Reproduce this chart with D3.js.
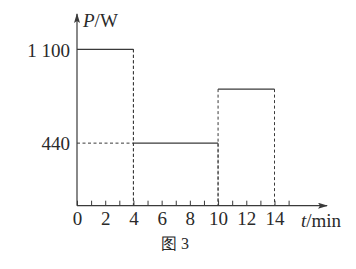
<!DOCTYPE html>
<html>
<head>
<meta charset="utf-8">
<script src="https://cdn.jsdelivr.net/npm/d3@7"></script>
<style>
  body { margin: 0; background: #fff; }
  svg { display: block; }
  text { font-family: "Liberation Serif", "DejaVu Serif", serif; fill: #2a2a2a; }
</style>
</head>
<body>
<svg width="356" height="269"></svg>
<script>
// segments of the power curve
var startTimes = [0, 4, 10];
var endTimes = [4, 10, 14];
var powers = [1100, 440, 820];
// axis ticks
var xTicks = d3.range(0, 16);
var xLabels = [0, 2, 4, 6, 8, 10, 12, 14];
var yLabels = [440, 1100];

var svg = d3.select("svg");
var ink = "#3a3a3a";
var txt = "#2a2a2a";

var xScale = d3.scaleLinear().domain([0, 14]).range([77, 274.5]);
var yScale = d3.scaleLinear().domain([0, 1100]).range([205.7, 49.3]);
var x0 = xScale(0), y0 = yScale(0);

var fmt = d3.formatLocale({decimal: ".", thousands: " ", grouping: [3], currency: ["", ""]}).format(",");

svg.append("defs").append("marker")
  .attr("id", "arrow")
  .attr("viewBox", "0 0 10 6")
  .attr("refX", 9).attr("refY", 3)
  .attr("markerWidth", 10).attr("markerHeight", 6)
  .attr("markerUnits", "userSpaceOnUse")
  .attr("orient", "auto")
  .append("path").attr("d", "M0,0L10,3L0,6L2,3Z").attr("fill", ink);

// x axis
var xAxis = svg.append("g")
  .attr("transform", "translate(0," + y0 + ")")
  .call(d3.axisBottom(xScale)
    .tickValues(xTicks)
    .tickSizeInner(-5).tickSizeOuter(0)
    .tickPadding(6)
    .tickFormat(function(d) { return xLabels.indexOf(d) >= 0 ? d : ""; }));
xAxis.select(".domain").remove();
xAxis.selectAll("line").attr("stroke", ink);
xAxis.selectAll("text").attr("font-size", 19).attr("fill", txt)
  .attr("font-family", "Liberation Serif");

svg.append("line")
  .attr("x1", x0).attr("y1", y0).attr("x2", 327).attr("y2", y0)
  .attr("stroke", ink).attr("stroke-width", 1.2)
  .attr("marker-end", "url(#arrow)");

// y axis
var yAxis = svg.append("g")
  .attr("transform", "translate(" + x0 + ",0)")
  .call(d3.axisLeft(yScale).tickValues(yLabels).tickSize(0).tickPadding(7).tickFormat(fmt));
yAxis.select(".domain").remove();
yAxis.selectAll("text").attr("font-size", 19).attr("fill", txt)
  .attr("font-family", "Liberation Serif").attr("dy", "0.36em");

svg.append("line")
  .attr("x1", x0).attr("y1", y0).attr("x2", x0).attr("y2", 14)
  .attr("stroke", ink).attr("stroke-width", 1.2)
  .attr("marker-end", "url(#arrow)");

// axis titles
var pt = svg.append("text").attr("x", 83).attr("y", 27).attr("font-size", 19);
pt.append("tspan").attr("font-style", "italic").text("P");
pt.append("tspan").text("/W");

var tt = svg.append("text").attr("x", 301).attr("y", 227).attr("font-size", 19);
tt.append("tspan").attr("font-style", "italic").text("t");
tt.append("tspan").text("/min");

svg.append("text").attr("x", 175).attr("y", 249).attr("font-size", 16)
  .attr("text-anchor", "middle")
  .text("图 3");

// dashed guides
var dash = "3,2.5";
var g = svg.append("g");
startTimes.forEach(function(t, i) {
  var p = powers[i];
  // vertical drop at segment end
  g.append("line")
    .attr("x1", xScale(endTimes[i])).attr("x2", xScale(endTimes[i]))
    .attr("y1", yScale(p)).attr("y2", y0)
    .attr("stroke", ink).attr("stroke-dasharray", dash);
  // vertical drop at segment start (not on the y axis)
  if (t > 0) {
    g.append("line")
      .attr("x1", xScale(t)).attr("x2", xScale(t))
      .attr("y1", yScale(Math.max(p, powers[i - 1]))).attr("y2", y0)
      .attr("stroke", ink).attr("stroke-dasharray", dash);
  }
  // horizontal reference back to the y axis for labelled levels
  if (t > 0 && yLabels.indexOf(p) >= 0) {
    g.append("line")
      .attr("x1", x0).attr("x2", xScale(t))
      .attr("y1", yScale(p)).attr("y2", yScale(p))
      .attr("stroke", ink).attr("stroke-dasharray", dash);
  }
});

// power levels
g.selectAll(".seg")
  .data(powers)
  .enter().append("line")
  .attr("class", "seg")
  .attr("x1", function(d, i) { return xScale(startTimes[i]); })
  .attr("x2", function(d, i) { return xScale(endTimes[i]); })
  .attr("y1", function(d) { return yScale(d); })
  .attr("y2", function(d) { return yScale(d); })
  .attr("stroke", ink).attr("stroke-width", 1.3);
</script>
</body>
</html>
